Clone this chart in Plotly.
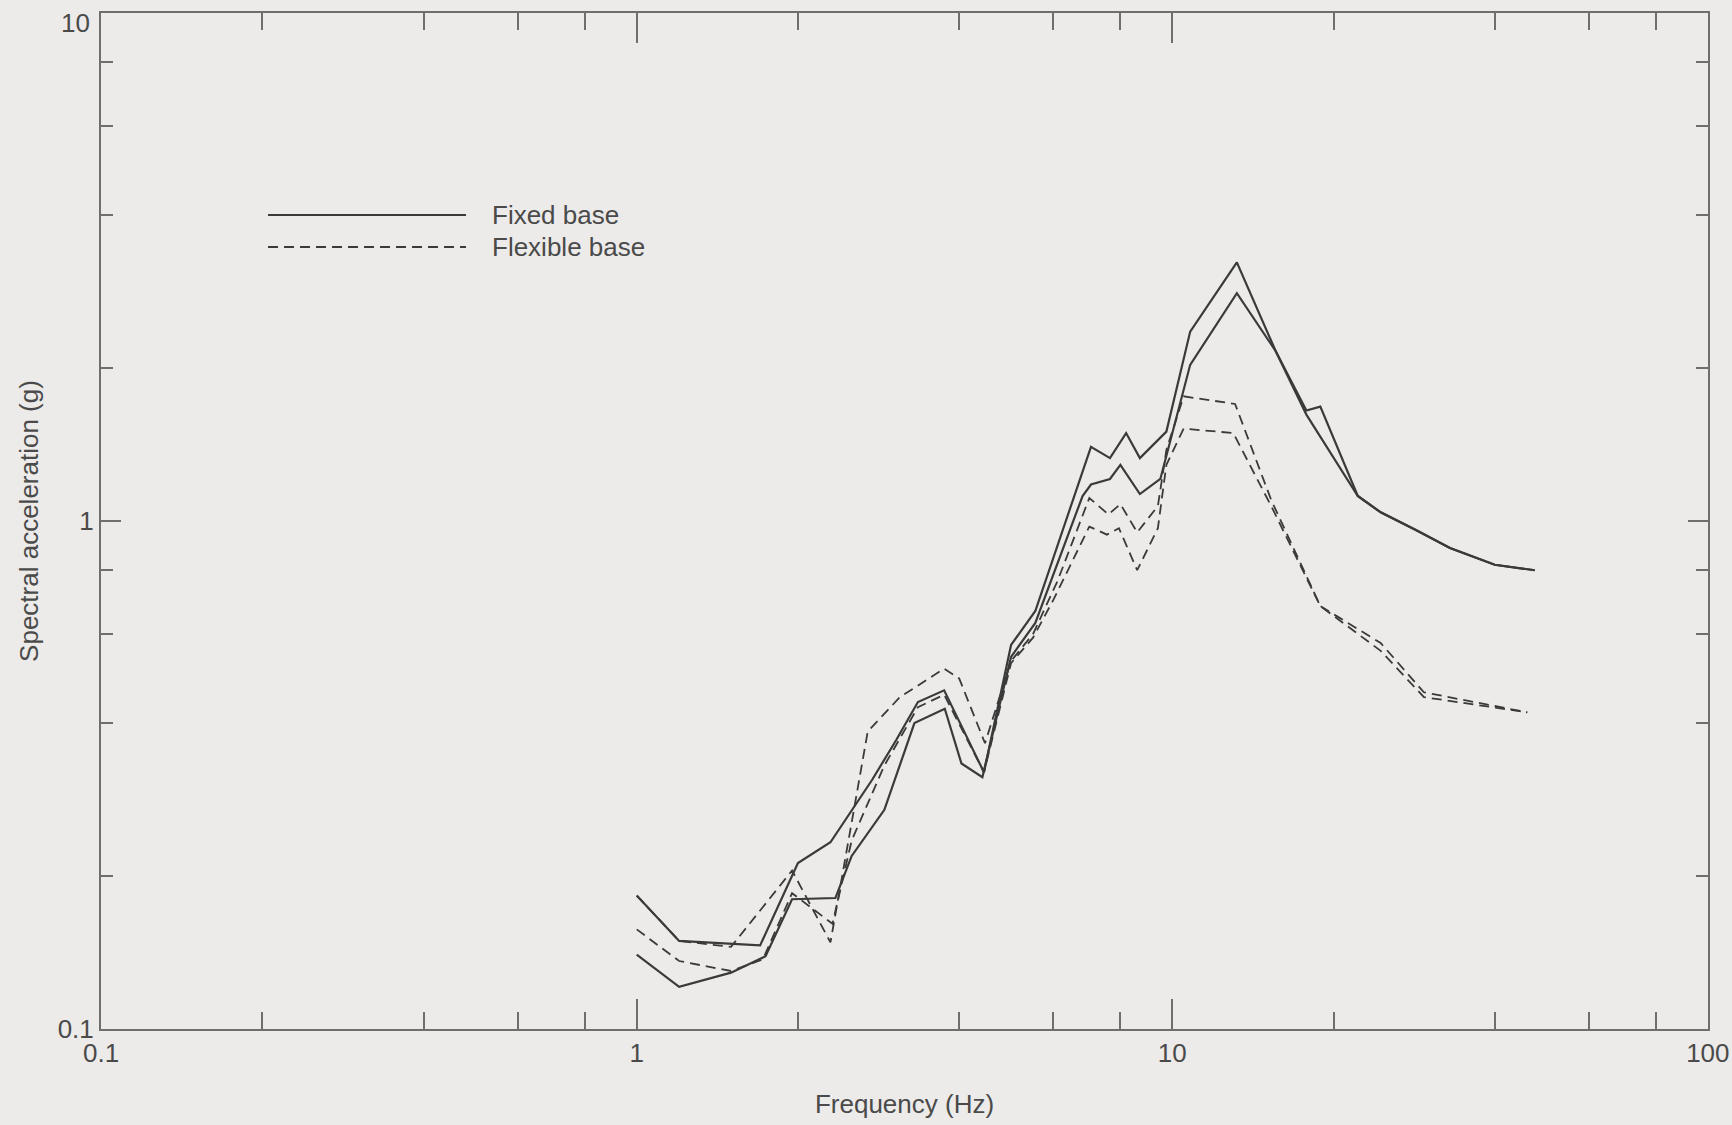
import plotly.graph_objects as go

# ---- data ----
fixed_a_freq = [1.0, 1.2, 1.7, 2.0, 2.3, 2.5, 2.75, 3.05, 3.35, 3.75, 4.45, 5.0, 5.55,
                7.05, 7.65, 8.2, 8.7, 9.75, 10.8, 13.2, 15.6, 17.8, 18.9, 22.2, 24.5,
                28.5, 33.0, 40.0, 47.5]
fixed_a_acc = [0.183, 0.149, 0.146, 0.212, 0.233, 0.266, 0.309, 0.37, 0.44, 0.464, 0.32,
               0.57, 0.665, 1.40, 1.33, 1.49, 1.33, 1.50, 2.36, 3.23, 2.16, 1.65, 1.68,
               1.12, 1.04, 0.96, 0.885, 0.82, 0.80]

fixed_b_freq = [1.0, 1.2, 1.5, 1.74, 1.95, 2.35, 2.52, 2.9, 3.3, 3.76, 4.04, 4.42, 5.0,
                5.55, 6.8, 7.05, 7.65, 8.0, 8.7, 9.5, 10.8, 13.2, 15.6, 17.8, 22.2,
                24.5, 28.5, 33.0, 40.0, 47.5]
fixed_b_acc = [0.140, 0.121, 0.129, 0.139, 0.18, 0.181, 0.219, 0.27, 0.40, 0.427, 0.333,
               0.313, 0.54, 0.63, 1.12, 1.18, 1.21, 1.29, 1.13, 1.21, 2.03, 2.81, 2.16,
               1.62, 1.12, 1.04, 0.96, 0.885, 0.82, 0.80]

flex_a_freq = [1.0, 1.2, 1.5, 1.95, 2.3, 2.7, 3.1, 3.75, 4.0, 4.47, 5.0, 5.5, 6.1, 7.0,
               7.6, 8.0, 8.6, 9.4, 9.75, 10.5, 13.1, 15.3, 18.9, 24.5, 29.5, 46.0]
flex_a_acc = [0.183, 0.149, 0.145, 0.205, 0.148, 0.385, 0.45, 0.512, 0.49, 0.365, 0.53,
              0.60, 0.76, 1.11, 1.03, 1.08, 0.95, 1.07, 1.38, 1.76, 1.70, 1.10, 0.68,
              0.575, 0.46, 0.42]

flex_b_freq = [1.0, 1.2, 1.5, 1.72, 1.95, 2.32, 2.52, 2.9, 3.35, 3.75, 4.45, 5.0, 5.5,
               6.0, 7.0, 7.55, 7.95, 8.6, 9.4, 9.75, 10.5, 13.0, 15.3, 18.9, 24.5,
               29.5, 46.0]
flex_b_acc = [0.157, 0.136, 0.130, 0.137, 0.185, 0.161, 0.235, 0.33, 0.43, 0.455, 0.32,
              0.525, 0.59, 0.70, 0.975, 0.94, 0.968, 0.80, 0.968, 1.29, 1.52, 1.49,
              1.07, 0.68, 0.555, 0.45, 0.42]

x_ticks = [0.1, 1, 10, 100]
x_tick_text = ["0.1", "1", "10", "100"]
y_ticks = [0.1, 1, 10]
y_tick_text = ["0.1", "1", "10"]
x_minor_vals = [0.2, 0.4, 0.6, 0.8, 2, 4, 6, 8, 20, 40, 60, 80]
y_minor_vals = [0.2, 0.4, 0.6, 0.8, 2, 4, 6, 8]

legend_labels = ["Fixed base", "Flexible base"]
x_title = "Frequency (Hz)"
y_title = "Spectral acceleration (g)"

# ---- styling ----
BG = "#ecebe9"
LINE = "#3a3a3a"
AXIS = "#6e6e6e"
TEXT = "#4a4a4a"
FONT = "Liberation Sans, Arial, sans-serif"
DASH = "10px,6px"
EPS = 0.0003  # keeps the end ticks (0.1 / 100) visible

fig = go.Figure()
for fx, fy in [(fixed_a_freq, fixed_a_acc), (fixed_b_freq, fixed_b_acc)]:
    fig.add_trace(go.Scatter(x=fx, y=fy, mode="lines", name=legend_labels[0],
                             line=dict(color=LINE, width=2.2), showlegend=False))
for fx, fy in [(flex_a_freq, flex_a_acc), (flex_b_freq, flex_b_acc)]:
    fig.add_trace(go.Scatter(x=fx, y=fy, mode="lines", name=legend_labels[1],
                             line=dict(color=LINE, width=1.8, dash=DASH), showlegend=False))

L, R, T, B = 101, 24, 13, 96
W, H = 1732, 1125
pw, ph = W - L - R, H - T - B

def px2paper_x(px):
    return (px - L) / pw

def px2paper_y(py):
    return (H - B - py) / ph

# manual legend (long sample lines as in the original)
for i, (label, dash, lw) in enumerate([(legend_labels[0], "solid", 2.2),
                                       (legend_labels[1], DASH, 1.8)]):
    ypx = 215 + 32 * i
    fig.add_shape(type="line", xref="paper", yref="paper",
                  x0=px2paper_x(268), x1=px2paper_x(466),
                  y0=px2paper_y(ypx), y1=px2paper_y(ypx),
                  line=dict(color=LINE, width=lw, dash=dash))
    fig.add_annotation(xref="paper", yref="paper", x=px2paper_x(490), y=px2paper_y(ypx),
                       text=label, showarrow=False, xanchor="left", yanchor="middle",
                       font=dict(family=FONT, size=26, color=TEXT))

# the top y label ("10") sits a little below the top edge in the original,
# so it is drawn as an annotation anchored to the y=10 tick
y_axis_labels = list(y_tick_text)
top_label = y_axis_labels[-1]
y_axis_labels[-1] = ""
fig.add_annotation(xref="paper", yref="y", x=0, y=1, text=top_label, showarrow=False,
                   xanchor="right", yanchor="middle", xshift=-9, yshift=-10,
                   font=dict(family=FONT, size=26, color=TEXT))

axis_common = dict(type="log", showline=True, linecolor=AXIS, linewidth=2, mirror="ticks",
                   ticks="inside", tickcolor=AXIS, tickwidth=1.5, showgrid=False,
                   zeroline=False, ticklabeloverflow="allow",
                   tickfont=dict(family=FONT, size=26, color=TEXT))

fig.update_xaxes(**axis_common, range=[-1 - EPS, 2 + EPS], tickmode="array",
                 tickvals=x_ticks, ticktext=x_tick_text, ticklen=30,
                 minor=dict(tickmode="array", tickvals=x_minor_vals, ticks="inside",
                            ticklen=17, tickcolor=AXIS, tickwidth=1.5, showgrid=False),
                 title=dict(text=x_title, font=dict(family=FONT, size=26, color=TEXT),
                            standoff=28))
fig.update_yaxes(**axis_common, range=[-1 - EPS, 1 + EPS], tickmode="array",
                 tickvals=y_ticks, ticktext=y_axis_labels, ticklen=20,
                 minor=dict(tickmode="array", tickvals=y_minor_vals,
                            ticks="inside", ticklen=12, tickcolor=AXIS, tickwidth=1.5,
                            showgrid=False),
                 title=dict(text=y_title, font=dict(family=FONT, size=26, color=TEXT),
                            standoff=12))

fig.update_layout(width=W, height=H, paper_bgcolor=BG, plot_bgcolor=BG,
                  margin=dict(l=L, r=R, t=T, b=B, autoexpand=False),
                  showlegend=False, font=dict(family=FONT, color=TEXT))

fig.write_html(
    "out.html",
    config={"displayModeBar": False},
    post_script="document.body.style.margin='0px';"
                "document.body.style.background='" + BG + "';",
)
